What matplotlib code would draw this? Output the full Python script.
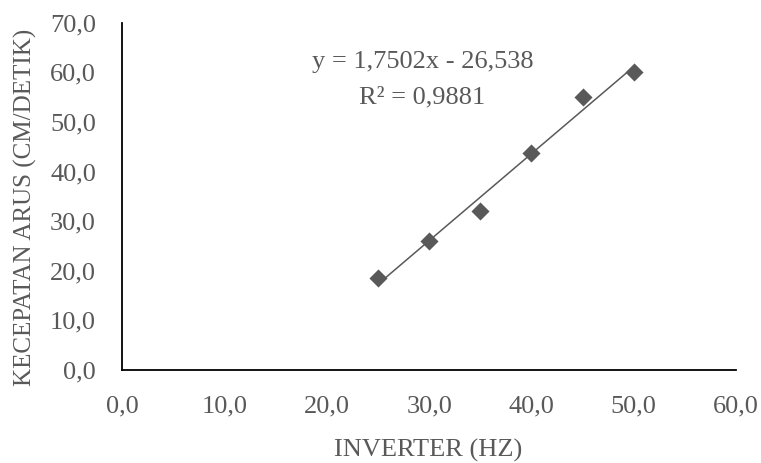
import matplotlib
matplotlib.use("Agg")
import matplotlib.pyplot as plt
import numpy as np
from matplotlib.ticker import FuncFormatter

x_hz = [25, 30, 35, 40, 45, 50]
y_speed = [18.5, 26.0, 32.0, 43.7, 55.0, 60.1]
x_ticks = [0, 10, 20, 30, 40, 50, 60]
y_ticks = [0, 10, 20, 30, 40, 50, 60, 70]
eq_text = "y = 1,7502x - 26,538"
r2_text = "R² = 0,9881"
xlabel = "INVERTER (HZ)"
ylabel = "KECEPATAN ARUS (CM/DETIK)"

grey = "#595959"
plt.rcParams['font.family'] = ['Liberation Serif', 'DejaVu Serif']

W, H = 761, 463
fig = plt.figure(figsize=(W / 100, H / 100), dpi=100)
x0, x1, y0, y1 = 122.3, 736.0, 370.0, 22.7
ax = fig.add_axes([x0 / W, 1 - y0 / H, (x1 - x0) / W, (y0 - y1) / H])

coef = np.polyfit(x_hz, y_speed, 1)
xs = np.array([min(x_hz), max(x_hz)])
ax.plot(xs, np.polyval(coef, xs), color=grey, lw=1.1, zorder=2)
ax.scatter(x_hz, y_speed, marker='D', s=85, color=grey, zorder=3, linewidths=0)

ax.set_xlim(0, 60)
ax.set_ylim(0, 70)
ax.set_xticks(x_ticks)
ax.set_yticks(y_ticks)
fmt = FuncFormatter(lambda v, p: f"{v:.1f}".replace('.', ','))
ax.xaxis.set_major_formatter(fmt)
ax.yaxis.set_major_formatter(fmt)
ax.tick_params(length=0, labelsize=19, labelcolor=grey)
ax.tick_params(axis='x', pad=18)
ax.tick_params(axis='y', pad=19)
for s in ['top', 'right']:
    ax.spines[s].set_visible(False)
for s in ['left', 'bottom']:
    ax.spines[s].set_color('black')
    ax.spines[s].set_linewidth(1.3)

fig.text(428 / W, 1 - 450 / H, xlabel, fontsize=19, color=grey, ha='center', va='center')
fig.text(25 / W, 1 - 207 / H, ylabel, fontsize=18, color=grey, ha='center', va='center',
         rotation=90)

ax.text(29.35, 60.9, eq_text, fontsize=19, color=grey, ha='center', va='baseline')
ax.text(29.35, 53.8, r2_text, fontsize=19, color=grey, ha='center', va='baseline')

fig.savefig("out.png", dpi=100)
